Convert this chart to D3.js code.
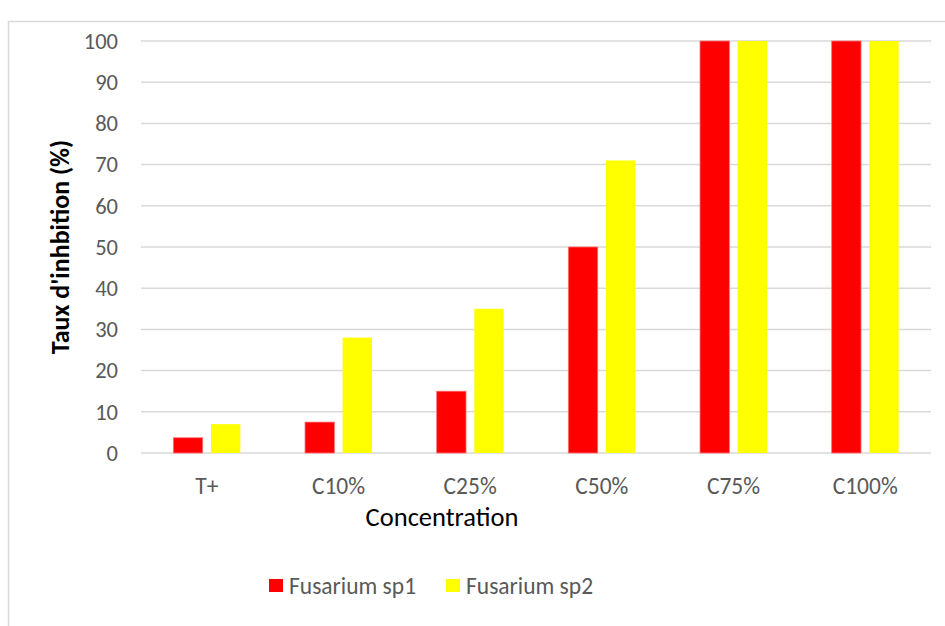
<!DOCTYPE html>
<html>
<head>
<meta charset="utf-8">
<script src="https://cdn.jsdelivr.net/npm/d3@7"></script>
<style>
    body { margin: 0; background: #fff; }
    svg text { font-family: Carlito, Lato, "Open Sans", sans-serif; }
</style>
</head>
<body>
<svg id="chart"></svg>
<script>
var categories = ["T+", "C10%", "C25%", "C50%", "C75%", "C100%"];
var seriesNames = ["Fusarium sp1", "Fusarium sp2"];
var sp1 = [3.7, 7.5, 15, 50, 100, 100];
var sp2 = [7, 28, 35, 71, 100, 100];
var yTicks = [0, 10, 20, 30, 40, 50, 60, 70, 80, 90, 100];
var colors = ["#ff0000", "#ffff00"];

var width = 945,
    height = 626;

var svg = d3.select("#chart")
    .attr("width", width)
    .attr("height", height);

// chart frame
svg.append("rect")
    .attr("x", 8.5)
    .attr("y", 21.5)
    .attr("width", 945)
    .attr("height", 620)
    .attr("fill", "#fff")
    .attr("stroke", "#d9d9d9")
    .attr("stroke-width", 1.5);

var x = d3.scaleBand()
    .domain(categories)
    .range([141, 931]);

var xs = d3.scaleBand()
    .domain(seriesNames)
    .range([0, x.bandwidth()])
    .paddingInner(0.22)
    .paddingOuter(0.86);

var y = d3.scaleLinear()
    .domain([0, 100])
    .range([453, 41]);

// gridlines
svg.append("g")
    .selectAll("line")
    .data(yTicks)
    .enter().append("line")
    .attr("x1", 141)
    .attr("x2", 931)
    .attr("y1", function(d) { return y(d); })
    .attr("y2", function(d) { return y(d); })
    .attr("stroke", "#d9d9d9")
    .attr("stroke-width", 1.5);

// y tick labels
svg.append("g")
    .selectAll("text")
    .data(yTicks)
    .enter().append("text")
    .attr("x", 118)
    .attr("y", function(d) { return y(d); })
    .attr("dy", "0.35em")
    .attr("text-anchor", "end")
    .attr("fill", "#595959")
    .style("font-size", "22.5px")
    .text(function(d) { return d; });

// bars
var rows = categories.map(function(c, i) {
    return { cat: c, values: [sp1[i], sp2[i]] };
});

var groups = svg.append("g")
    .selectAll("g")
    .data(rows)
    .enter().append("g")
    .attr("transform", function(d) { return "translate(" + x(d.cat) + ",0)"; });

groups.selectAll("rect")
    .data(function(d) {
        return d.values.map(function(v, j) { return { name: seriesNames[j], v: v, j: j }; });
    })
    .enter().append("rect")
    .attr("x", function(d) { return xs(d.name); })
    .attr("width", xs.bandwidth())
    .attr("y", function(d) { return y(d.v); })
    .attr("height", function(d) { return y(0) - y(d.v); })
    .attr("fill", function(d) { return colors[d.j]; })
    .attr("stroke", function(d) { return d.j == 0 ? "#ff6f6f" : "none"; })
    .attr("stroke-width", 0.8);

// x category labels
svg.append("g")
    .selectAll("text")
    .data(categories)
    .enter().append("text")
    .attr("x", function(d) { return x(d) + x.bandwidth() / 2; })
    .attr("y", 486)
    .attr("dy", "0.35em")
    .attr("text-anchor", "middle")
    .attr("fill", "#595959")
    .style("font-size", "23.5px")
    .text(function(d) { return d; });

// axis titles
svg.append("text")
    .attr("x", 442)
    .attr("y", 517)
    .attr("dy", "0.35em")
    .attr("text-anchor", "middle")
    .attr("fill", "#000")
    .style("font-size", "26.5px")
    .text("Concentration");

svg.append("text")
    .attr("transform", "translate(60,247)rotate(-90)")
    .attr("dy", "0.35em")
    .attr("text-anchor", "middle")
    .attr("fill", "#000")
    .style("font-size", "26px")
    .style("font-weight", "bold")
    .text("Taux d'inhbition (%)");

// legend
var legendX = [269, 446];
var legend = svg.append("g")
    .selectAll("g")
    .data(seriesNames)
    .enter().append("g")
    .attr("transform", function(d, i) { return "translate(" + legendX[i] + ",579)"; });

legend.append("rect")
    .attr("width", 14)
    .attr("height", 13)
    .attr("fill", function(d, i) { return colors[i]; });

legend.append("text")
    .attr("x", 20)
    .attr("y", 7)
    .attr("dy", "0.35em")
    .attr("fill", "#595959")
    .style("font-size", "23.5px")
    .text(function(d) { return d; });
</script>
</body>
</html>
